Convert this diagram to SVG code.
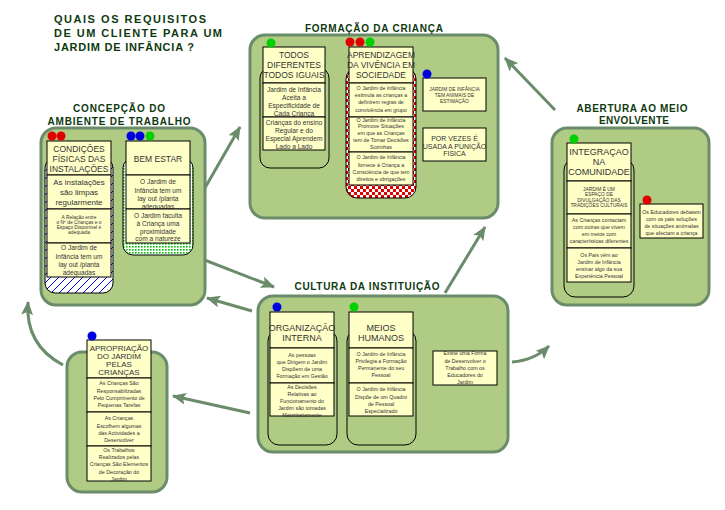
<svg xmlns="http://www.w3.org/2000/svg" width="725" height="510" viewBox="0 0 725 510">
<style>
text{font-family:"Liberation Sans",Arial,sans-serif;text-anchor:middle;fill:#333}
.panel{fill:#b0cc84;stroke:#6b8c6b;stroke-width:3}
.cap{stroke:#000;stroke-width:1}
.box{fill:#ffffc8;stroke:#000;stroke-width:1}
.h{font-size:8.5px}
.m{font-size:6.6px}
.s{font-size:5.3px}
.xs{font-size:4.9px}
.t{font-size:10px;font-weight:bold;fill:#0f3a0f}
.tt{font-size:11px;font-weight:bold;fill:#0f3a0f;text-anchor:start}
.arr{fill:none;stroke:#6b8c6b;stroke-width:3;marker-end:url(#ah)}
.r{fill:#e00000}.g{fill:#00d000}.b{fill:#0000e0}
</style>
<defs>
<marker id="ah" markerUnits="userSpaceOnUse" markerWidth="14" markerHeight="12" refX="13" refY="6" orient="auto"><path d="M0,0 L14,6 L0,12 L3,6 z" fill="#6b8c6b"/></marker>
<pattern id="chk" width="6" height="6" patternUnits="userSpaceOnUse"><rect width="6" height="6" fill="#fff"/><rect width="3" height="3" fill="#e00000"/><rect x="3" y="3" width="3" height="3" fill="#e00000"/></pattern>
<pattern id="hatch" width="8" height="8" patternUnits="userSpaceOnUse"><rect width="8" height="8" fill="#fff"/><path d="M0,8 L8,0 M-1,1 L1,-1 M7,9 L9,7" stroke="#0000ff" stroke-width="1"/></pattern>
<pattern id="dots" width="3" height="3" patternUnits="userSpaceOnUse"><rect width="3" height="3" fill="#fff"/><rect width="1.6" height="1.6" fill="#00c000"/></pattern>
</defs>
<rect width="725" height="510" fill="#fff"/>

<g id="title">
<text class="tt" x="54" y="23" textLength="152" lengthAdjust="spacing">QUAIS OS REQUISITOS</text>
<text class="tt" x="54" y="37" textLength="168" lengthAdjust="spacing">DE UM CLIENTE PARA UM</text>
<text class="tt" x="54" y="51" textLength="140" lengthAdjust="spacing">JARDIM DE INFÂNCIA ?</text>
</g>

<g id="connectors">
<path class="arr" d="M202,193 L240,127"/>
<path class="arr" d="M202,259 L274,287"/>
<path class="arr" d="M252,311 L207,298"/>
<path class="arr" d="M445,293 L485,227"/>
<path class="arr" d="M555,110 L505,58"/>
<path class="arr" d="M512,362 Q535,360 549,346"/>
<path class="arr" d="M250,413 L173,396"/>
<path class="arr" d="M63,365 Q25,345 28,302"/>
</g>

<g id="formacao">
<rect class="panel" x="250" y="35" width="248" height="183" rx="15"/>
<text class="t" x="374" y="32" textLength="138" lengthAdjust="spacing">FORMAÇÃO DA CRIANÇA</text>
</g>
<g id="todos-diferentes">
<rect class="cap" x="260" y="68" width="69" height="100" rx="10" fill="none"/>
<rect class="box" x="263" y="47" width="62" height="36"/>
<text class="h" x="294" y="58">TODOS</text><text class="h" x="294" y="68">DIFERENTES</text><text class="h" x="294" y="78">TODOS IGUAIS</text>
<rect class="box" x="263" y="83" width="62" height="34"/>
<text class="m" x="294" y="92">Jardim de Infância</text><text class="m" x="294" y="100">Aceita a</text><text class="m" x="294" y="108">Especificidade de</text><text class="m" x="294" y="116">Cada Criança</text>
<rect class="box" x="263" y="117" width="62" height="33"/>
<text class="m" x="294" y="124.5">Crianças do ensino</text><text class="m" x="294" y="132.5">Regular e do</text><text class="m" x="294" y="140.5">Especial Aprendem</text><text class="m" x="294" y="148.5">Lado a Lado</text>
<circle class="g" cx="271" cy="43" r="4.5"/>
</g>
<g id="aprendizagem">
<rect class="cap" x="346" y="68" width="70" height="130" rx="11" fill="url(#chk)"/>
<rect class="box" x="349" y="47" width="64" height="36"/>
<text class="h" x="381" y="58">APRENDIZAGEM</text><text class="h" x="381" y="68">DA VIVÊNCIA EM</text><text class="h" x="381" y="78">SOCIEDADE</text>
<rect class="box" x="349" y="83" width="64" height="34"/>
<text class="s" x="381" y="90">O Jardim de Infância</text><text class="s" x="381" y="97">estimula as crianças a</text><text class="s" x="381" y="104">definirem regras de</text><text class="s" x="381" y="111.5">convivência em grupo</text>
<rect class="box" x="349" y="117" width="64" height="35"/>
<text class="s" x="381" y="121.5">O Jardim de Infância</text><text class="s" x="381" y="128">Promove Situações</text><text class="s" x="381" y="135">em que as Crianças</text><text class="s" x="381" y="141.5">tem de Tomar Decisões</text><text class="s" x="381" y="148.5">Sozinhas</text>
<rect class="box" x="349" y="152" width="64" height="33"/>
<text class="s" x="381" y="159">O Jardim de Infância</text><text class="s" x="381" y="167">fornece à Criança a</text><text class="s" x="381" y="174">Consciência de que tem</text><text class="s" x="381" y="181">direitos e obrigações</text>
<circle class="r" cx="350" cy="42" r="4.5"/><circle class="r" cx="360" cy="42" r="4.5"/><circle class="g" cx="370" cy="42" r="4.5"/>
</g>
<g id="animais">
<rect class="box" x="423" y="78" width="63" height="33"/>
<text class="xs" x="454.5" y="91">JARDIM DE INFÂNCIA</text><text class="xs" x="454.5" y="97">TEM ANIMAIS DE</text><text class="xs" x="454.5" y="103">ESTIMAÇÃO</text>
<circle class="b" cx="427" cy="74" r="4.5"/>
</g>
<g id="punicao">
<rect class="box" x="423" y="128" width="63" height="33"/>
<text class="m" x="454.5" y="141" style="font-size:7px">POR VEZES É</text><text class="m" x="454.5" y="148.5" style="font-size:7px">USADA A PUNIÇÃO</text><text class="m" x="454.5" y="156" style="font-size:7px">FISICA</text>
</g>

<g id="concepcao">
<rect class="panel" x="41" y="128" width="164" height="177" rx="15"/>
<text class="t" x="119" y="112" textLength="92" lengthAdjust="spacing">CONCEPÇÃO DO</text>
<text class="t" x="119" y="125" textLength="143" lengthAdjust="spacing">AMBIENTE DE TRABALHO</text>
</g>
<g id="condicoes">
<rect class="cap" x="45" y="158" width="68" height="135" rx="10" fill="url(#hatch)"/>
<rect class="box" x="47" y="141" width="64" height="34"/>
<text class="h" x="79" y="152">CONDIÇÕES</text><text class="h" x="79" y="162">FÍSICAS DAS</text><text class="h" x="79" y="172">INSTALAÇÕES</text>
<rect class="box" x="47" y="175" width="64" height="34"/>
<text class="h" x="79" y="185" style="font-size:8px">As instalações</text><text class="h" x="79" y="195" style="font-size:8px">são limpas</text><text class="h" x="79" y="205" style="font-size:8px">regularmente</text>
<rect class="box" x="47" y="209" width="64" height="34"/>
<text class="xs" x="79" y="219">A Relação entre</text><text class="xs" x="79" y="224">o Nº de Crianças e o</text><text class="xs" x="79" y="229">Espaço Disponível é</text><text class="xs" x="79" y="234">adequada</text>
<rect class="box" x="47" y="243" width="64" height="34"/>
<text class="m" x="79" y="250">O Jardim de</text><text class="m" x="79" y="258.5">Infância tem um</text><text class="m" x="79" y="267">lay out /planta</text><text class="m" x="79" y="275">adequadas</text>
<circle class="r" cx="52" cy="136" r="4.5"/><circle class="r" cx="61" cy="136" r="4.5"/>
</g>
<g id="bem-estar">
<rect class="cap" x="123" y="158" width="70" height="97" rx="10" fill="url(#dots)"/>
<rect class="box" x="126" y="141" width="64" height="34"/>
<text class="h" x="158" y="162">BEM ESTAR</text>
<rect class="box" x="126" y="175" width="64" height="34"/>
<text class="m" x="158" y="184">O Jardim de</text><text class="m" x="158" y="192.5">Infância tem um</text><text class="m" x="158" y="201">lay out /planta</text><text class="m" x="158" y="209">adequadas</text>
<rect class="box" x="126" y="209" width="64" height="34"/>
<text class="m" x="158" y="218">O Jardim faculta</text><text class="m" x="158" y="226">à Criança uma</text><text class="m" x="158" y="234">proximidade</text><text class="m" x="158" y="241">com a natureze</text>
<circle class="b" cx="131" cy="136" r="4.5"/><circle class="b" cx="140" cy="136" r="4.5"/><circle class="g" cx="150" cy="136" r="4.5"/>
</g>

<g id="abertura">
<rect class="panel" x="552" y="128" width="157" height="177" rx="15"/>
<text class="t" x="632" y="112" textLength="111" lengthAdjust="spacing">ABERTURA AO MEIO</text>
<text class="t" x="634" y="124" textLength="70" lengthAdjust="spacing">ENVOLVENTE</text>
</g>
<g id="integracao">
<rect class="cap" x="564" y="159" width="70" height="138" rx="11" fill="none"/>
<rect class="box" x="567" y="143" width="64" height="38"/>
<text class="h" x="599" y="155" style="font-size:9px">INTEGRAÇAO</text><text class="h" x="599" y="165" style="font-size:9px">NA</text><text class="h" x="599" y="175" style="font-size:9px">COMUNIDADE</text>
<rect class="box" x="567" y="181" width="64" height="33"/>
<text class="xs" x="599" y="191">JARDIM É UM</text><text class="xs" x="599" y="196">ESPAÇO DE</text><text class="xs" x="599" y="201.5">DIVULGAÇÃO DAS</text><text class="xs" x="599" y="207">TRADIÇÕES CULTURAIS</text>
<rect class="box" x="567" y="214" width="64" height="34"/>
<text class="s" x="599" y="222">As Crianças contactam</text><text class="s" x="599" y="229">com outras que vivem</text><text class="s" x="599" y="236">em meios com</text><text class="s" x="599" y="243">características diferentes</text>
<rect class="box" x="567" y="248" width="64" height="34"/>
<text class="s" x="599" y="257">Os Pais vêm ao</text><text class="s" x="599" y="264">Jardim de Infância</text><text class="s" x="599" y="271">ensinar algo da sua</text><text class="s" x="599" y="278">Experiência Pessoal</text>
<circle class="g" cx="574" cy="139" r="4.5"/>
</g>
<g id="educadores">
<rect class="box" x="640" y="204" width="63" height="34"/>
<text class="s" x="671.5" y="214">Os Educadores debatem</text><text class="s" x="671.5" y="221">com os pais soluções</text><text class="s" x="671.5" y="228">de situações anómalas</text><text class="s" x="671.5" y="234.5">que afectam a criança</text>
<circle class="r" cx="647" cy="200" r="4.5"/>
</g>

<g id="cultura">
<rect class="panel" x="258" y="296" width="250" height="156" rx="15"/>
<text class="t" x="367" y="290" textLength="145" lengthAdjust="spacing">CULTURA DA INSTITUIÇÃO</text>
</g>
<g id="organizacao">
<rect class="cap" x="268" y="330" width="69" height="115" rx="11" fill="none"/>
<rect class="box" x="270" y="312" width="64" height="36"/>
<text class="h" x="302" y="331" style="font-size:9px">ORGANIZAÇÃO</text><text class="h" x="302" y="341" style="font-size:9px">INTERNA</text>
<rect class="box" x="270" y="348" width="64" height="35"/>
<text class="s" x="302" y="357">As pessoas</text><text class="s" x="302" y="364">que Dirigem o Jardim</text><text class="s" x="302" y="370.5">Dispõem de uma</text><text class="s" x="302" y="378">Formação em Gestão</text>
<rect class="box" x="270" y="383" width="64" height="33"/>
<text class="s" x="302" y="389">As Decisões</text><text class="s" x="302" y="395.5">Relativas ao</text><text class="s" x="302" y="403">Funcionamento do</text><text class="s" x="302" y="410">Jardim são tomadas</text><text class="s" x="302" y="416.5">Maioritariamente</text>
<circle class="b" cx="277" cy="307" r="4.5"/>
</g>
<g id="meios-humanos">
<rect class="cap" x="347" y="330" width="69" height="115" rx="11" fill="none"/>
<rect class="box" x="349" y="312" width="64" height="36"/>
<text class="h" x="381" y="331" style="font-size:9px">MEIOS</text><text class="h" x="381" y="341" style="font-size:9px">HUMANOS</text>
<rect class="box" x="349" y="348" width="64" height="35"/>
<text class="s" x="381" y="355.5">O Jardim de Infância</text><text class="s" x="381" y="363">Privilegia a Formação</text><text class="s" x="381" y="370">Permanente do seu</text><text class="s" x="381" y="377">Pessoal</text>
<rect class="box" x="349" y="383" width="64" height="33"/>
<text class="s" x="381" y="391">O Jardim de Infância</text><text class="s" x="381" y="399">Dispõe de um Quadro</text><text class="s" x="381" y="406">de Pessoal</text><text class="s" x="381" y="413">Especializado</text>
<circle class="g" cx="354" cy="307" r="4.5"/>
</g>
<g id="forma-trabalho">
<rect class="box" x="433" y="351" width="64" height="34"/>
<text class="s" x="465" y="355">Existe uma Forma</text><text class="s" x="465" y="362.5">de Desenvolver o</text><text class="s" x="465" y="370">Trabalho com os</text><text class="s" x="465" y="377">Educadores do</text><text class="s" x="465" y="384">Jardim</text>
</g>

<g id="apropriacao">
<rect class="panel" x="67" y="352" width="100" height="140" rx="15"/>
<rect class="box" x="87" y="340" width="64" height="38"/>
<text class="h" x="119" y="351" style="font-size:8px">APROPRIAÇÃO</text><text class="h" x="119" y="359" style="font-size:8px">DO JARDIM</text><text class="h" x="119" y="367" style="font-size:8px">PELAS</text><text class="h" x="119" y="375" style="font-size:8px">CRIANÇAS</text>
<rect class="box" x="87" y="378" width="64" height="34"/>
<text class="s" x="119" y="385">As Crianças São</text><text class="s" x="119" y="393">Responsabilizadas</text><text class="s" x="119" y="400">Pelo Cumprimento de</text><text class="s" x="119" y="407">Pequenas Tarefas</text>
<rect class="box" x="87" y="412" width="64" height="34"/>
<text class="s" x="119" y="420">As Crianças</text><text class="s" x="119" y="428">Escolhem algumas</text><text class="s" x="119" y="435">das Actividades a</text><text class="s" x="119" y="441.5">Desenvolver</text>
<rect class="box" x="87" y="446" width="64" height="35"/>
<text class="s" x="119" y="452">Os Trabalhos</text><text class="s" x="119" y="459">Realizados pelas</text><text class="s" x="119" y="466">Crianças São Elementos</text><text class="s" x="119" y="474">de Decoração do</text><text class="s" x="119" y="481">Jardim</text>
<circle class="b" cx="92" cy="336" r="4.5"/>
</g>
</svg>
